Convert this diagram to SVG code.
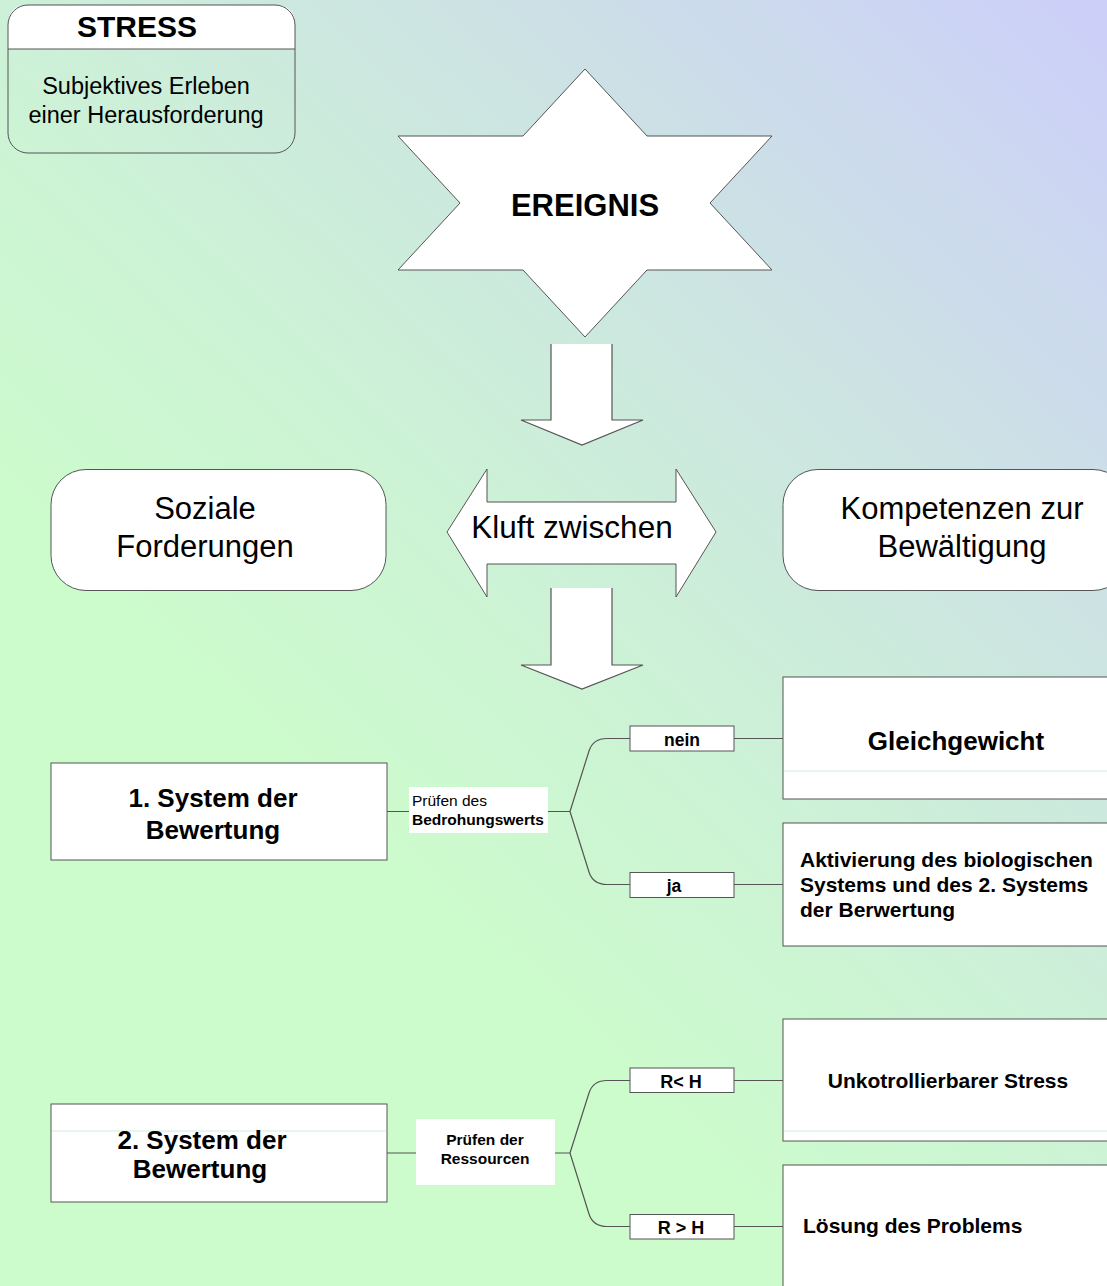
<svg xmlns="http://www.w3.org/2000/svg" width="1107" height="1286" viewBox="0 0 1107 1286">
<defs>
<linearGradient id="bg" gradientUnits="userSpaceOnUse" x1="350" y1="850" x2="1107" y2="50">
<stop offset="0" stop-color="#ccfccc"/>
<stop offset="0.3" stop-color="#ccf2d6"/>
<stop offset="0.6" stop-color="#cce4e2"/>
<stop offset="1" stop-color="#ccd0f8"/>
</linearGradient>
<style>
text{font-family:"Liberation Sans",Arial,sans-serif;fill:#000}
.b{font-weight:bold}
.shape{fill:#fff;stroke:#555;stroke-width:1}
.line{fill:none;stroke:#555;stroke-width:1.2}
.faint{stroke:#d2ecdc;stroke-width:1}
.c{text-anchor:middle}
</style>
</defs>
<rect x="0" y="0" width="1107" height="1286" fill="url(#bg)"/>

<g id="connectors">
<path class="line" d="M387,811.5 H570"/>
<path class="line" d="M570,811.5 L589,751 Q593,738.5 607,738.5 H630"/>
<path class="line" d="M570,811.5 L589,872 Q593,884.5 607,884.5 H630"/>
<path class="line" d="M734,738.5 H783"/>
<path class="line" d="M734,884.5 H783"/>
<path class="line" d="M387,1153 H570"/>
<path class="line" d="M570,1153 L589,1093 Q593,1080.5 607,1080.5 H630"/>
<path class="line" d="M570,1153 L589,1214 Q593,1226.5 607,1226.5 H630"/>
<path class="line" d="M734,1080.5 H783"/>
<path class="line" d="M734,1226.5 H783"/>
</g>

<g id="stress">
<path d="M8,49 V25 Q8,5 28,5 H275 Q295,5 295,25 V49 Z" fill="#fff"/>
<rect x="8" y="5" width="287" height="148" rx="20" fill="none" stroke="#555"/>
<line x1="8" y1="49" x2="295" y2="49" stroke="#555"/>
<text class="b c" x="137" y="37" font-size="30">STRESS</text>
<text class="c" x="146" y="94" font-size="23.5">Subjektives Erleben</text>
<text class="c" x="146" y="123" font-size="23.5">einer Herausforderung</text>
</g>

<g id="ereignis">
<polygon class="shape" points="585,69 523,136 398,136 460,203 398,270 523,270 585,337 647,270 772,270 710,203 772,136 647,136"/>
<text class="b c" x="585" y="216" font-size="31">EREIGNIS</text>
</g>

<g id="arrow1">
<polygon points="551,344 612,344 612,420 643,420 582,445 521,420 551,420" fill="#fff"/>
<path class="line" d="M551,344 V420 H521 L582,445 L643,420 H612 V344"/>
</g>

<g id="kluft">
<polygon class="shape" points="447,532 487,469 487,502 676,502 676,469 716,532 676,597 676,564 487,564 487,597"/>
<text class="c" x="572" y="537.5" font-size="31.5">Kluft zwischen</text>
</g>

<g id="arrow2">
<polygon points="551,588 612,588 612,665 643,665 582,689 521,665 551,665" fill="#fff"/>
<path class="line" d="M551,588 V665 H521 L582,689 L643,665 H612 V588"/>
</g>

<g id="soziale">
<rect class="shape" x="51" y="469.5" width="335" height="121" rx="35"/>
<text class="c" x="205" y="518.5" font-size="31">Soziale</text>
<text class="c" x="205" y="556.5" font-size="31">Forderungen</text>
</g>

<g id="kompetenzen">
<rect class="shape" x="783" y="469.5" width="345" height="121" rx="35"/>
<text class="c" x="962" y="518.5" font-size="31">Kompetenzen zur</text>
<text class="c" x="962" y="556.5" font-size="31">Bewältigung</text>
</g>

<g id="system1">
<rect class="shape" x="51" y="763" width="336" height="97"/>
<text class="b c" x="213" y="807" font-size="26">1. System der</text>
<text class="b c" x="213" y="839" font-size="26">Bewertung</text>
</g>

<g id="pruefen1">
<rect x="409" y="787" width="139" height="46" fill="#fff"/>
<text x="412" y="806" font-size="15.5">Prüfen des</text>
<text class="b" x="412" y="824.5" font-size="15.5">Bedrohungswerts</text>
</g>

<g id="nein">
<rect class="shape" x="630" y="726" width="104" height="25"/>
<text class="b c" x="682" y="745.5" font-size="17.5">nein</text>
</g>

<g id="ja">
<rect class="shape" x="630" y="872.5" width="104" height="25"/>
<text class="b c" x="674" y="891.5" font-size="17.5">ja</text>
</g>

<g id="gleichgewicht">
<rect class="shape" x="783" y="677" width="340" height="122"/>
<line class="faint" x1="784" y1="771" x2="1107" y2="771"/>
<text class="b c" x="956" y="750" font-size="26">Gleichgewicht</text>
</g>

<g id="aktivierung">
<rect class="shape" x="783" y="823" width="340" height="123"/>
<text class="b" x="800" y="867" font-size="21">Aktivierung des biologischen</text>
<text class="b" x="800" y="892" font-size="21">Systems und des 2. Systems</text>
<text class="b" x="800" y="917" font-size="21">der Berwertung</text>
</g>

<g id="system2">
<rect class="shape" x="51" y="1104" width="336" height="98"/>
<line class="faint" x1="52" y1="1131" x2="386" y2="1131"/>
<text class="b c" x="202" y="1149" font-size="26">2. System der</text>
<text class="b c" x="200" y="1178" font-size="26">Bewertung</text>
</g>

<g id="pruefen2">
<rect x="416" y="1119" width="139" height="66" fill="#fff"/>
<text class="b c" x="485" y="1145" font-size="15.5">Prüfen der</text>
<text class="b c" x="485" y="1164" font-size="15.5">Ressourcen</text>
</g>

<g id="rkleinerh">
<rect class="shape" x="630" y="1068" width="104" height="24.5"/>
<text class="b c" x="681" y="1088" font-size="18">R&lt; H</text>
</g>

<g id="rgroesserh">
<rect class="shape" x="630" y="1214.5" width="104" height="24.5"/>
<text class="b c" x="681" y="1234" font-size="18">R &gt; H</text>
</g>

<g id="unkontrollierbar">
<rect class="shape" x="783" y="1019" width="340" height="122"/>
<line class="faint" x1="784" y1="1131" x2="1107" y2="1131"/>
<text class="b c" x="948" y="1087.5" font-size="21">Unkotrollierbarer Stress</text>
</g>

<g id="loesung">
<rect class="shape" x="783" y="1165" width="340" height="150"/>
<text class="b" x="803" y="1233" font-size="21">Lösung des Problems</text>
</g>
</svg>
